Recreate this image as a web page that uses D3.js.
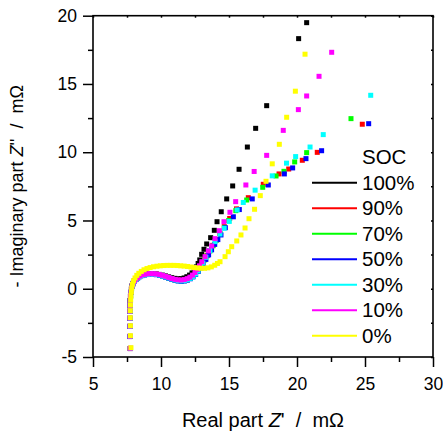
<!DOCTYPE html>
<html lang="en">

<head>
  <meta charset="UTF-8">
  <title>Nyquist SOC</title>
  <style>
    body { margin: 0; background: #fff; }
    text { font-family: "Liberation Sans", Arial, sans-serif; font-size: 17px; fill: #000; white-space: pre; }
  </style>
</head>

<body>
  <script src="https://d3js.org/d3.v7.min.js"></script>
  <script>
    // legend labels + colours (drawing order: 100% first, 0% last / on top)
    const socLabels = ['100%', '90%', '70%', '50%', '30%', '10%', '0%'];
    const socColors = ['#000000', '#ff0000', '#00ff00', '#0000ff', '#00ffff', '#ff00ff', '#ffff00'];

    const xTicks = [5, 10, 15, 20, 25, 30];
    const yTicks = [-5, 0, 5, 10, 15, 20];

    // [Z', -Z''] in mOhm
    const soc100 = [[7.74,-4.38],[7.71,-3.5],[7.71,-2.76],[7.70,-2.17],[7.70,-1.66],[7.71,-1.24],[7.73,-0.87],[7.75,-0.55],[7.78,-0.27],[7.82,-0.02],[7.87,0.2],[7.94,0.39],[8.03,0.56],[8.14,0.7],[8.27,0.82],[8.42,0.92],[8.59,1.0],[8.78,1.05],[8.98,1.08],[9.2,1.1],[9.42,1.1],[9.65,1.08],[9.88,1.05],[10.1,1.0],[10.33,0.94],[10.56,0.87],[10.79,0.81],[11.02,0.76],[11.25,0.73],[11.48,0.74],[11.7,0.79],[11.9,0.88],[12.1,1.0],[12.28,1.16],[12.45,1.37],[12.6,1.6],[12.73,1.85],[12.85,2.11],[12.99,2.52],[13.16,2.89],[13.36,3.28],[13.65,3.74],[13.92,4.28],[14.12,4.91],[14.43,5.64],[14.83,6.58],[15.27,7.53],[15.74,8.75],[16.35,10.38],[16.96,11.75],[17.77,13.41],[20.12,18.32],[20.71,19.49]];
    const soc90 = [[7.74,-4.38],[7.72,-3.5],[7.71,-2.76],[7.71,-2.17],[7.71,-1.66],[7.72,-1.24],[7.74,-0.87],[7.76,-0.55],[7.79,-0.27],[7.83,-0.02],[7.88,0.2],[7.95,0.38],[8.04,0.55],[8.15,0.69],[8.28,0.81],[8.43,0.91],[8.6,0.99],[8.79,1.04],[8.99,1.07],[9.21,1.08],[9.43,1.08],[9.66,1.06],[9.89,1.02],[10.11,0.96],[10.34,0.89],[10.57,0.81],[10.8,0.73],[11.03,0.66],[11.25,0.62],[11.48,0.6],[11.7,0.62],[11.92,0.68],[12.13,0.78],[12.33,0.92],[12.52,1.1],[12.7,1.32],[12.87,1.58],[13.03,1.85],[13.2,2.14],[13.38,2.45],[13.58,2.8],[13.8,3.18],[14.05,3.6],[14.33,4.05],[14.65,4.55],[15.05,5.15],[15.55,5.85],[16.42,6.67],[17.52,7.65],[18.68,8.41],[19.39,8.77],[20.39,9.41],[21.49,9.99],[24.8,12.05]];
    const soc70 = [[7.75,-4.37],[7.72,-3.49],[7.72,-2.75],[7.71,-2.16],[7.71,-1.65],[7.72,-1.23],[7.74,-0.86],[7.76,-0.54],[7.79,-0.26],[7.83,-0.01],[7.88,0.2],[7.95,0.38],[8.04,0.55],[8.15,0.69],[8.28,0.81],[8.43,0.9],[8.6,0.98],[8.79,1.03],[8.99,1.06],[9.21,1.07],[9.43,1.07],[9.66,1.05],[9.89,1.01],[10.11,0.95],[10.34,0.87],[10.57,0.79],[10.8,0.71],[11.03,0.64],[11.26,0.59],[11.49,0.57],[11.71,0.59],[11.93,0.65],[12.14,0.75],[12.34,0.89],[12.53,1.07],[12.71,1.29],[12.88,1.55],[13.04,1.82],[13.21,2.11],[13.4,2.42],[13.6,2.77],[13.83,3.15],[14.08,3.56],[14.36,4.0],[14.68,4.5],[14.98,5.0],[15.5,5.72],[16.3,6.5],[17.48,7.43],[18.46,8.26],[19.04,8.6],[19.83,9.29],[20.71,9.97],[23.97,12.46]];
    const soc50 = [[7.75,-4.38],[7.72,-3.5],[7.72,-2.76],[7.71,-2.17],[7.71,-1.66],[7.72,-1.24],[7.74,-0.87],[7.76,-0.55],[7.79,-0.27],[7.83,-0.03],[7.88,0.18],[7.95,0.36],[8.04,0.53],[8.15,0.67],[8.28,0.79],[8.43,0.88],[8.6,0.96],[8.79,1.01],[8.99,1.04],[9.21,1.05],[9.43,1.05],[9.66,1.03],[9.89,0.99],[10.11,0.93],[10.34,0.85],[10.57,0.77],[10.8,0.69],[11.03,0.62],[11.26,0.57],[11.49,0.55],[11.72,0.57],[11.94,0.63],[12.15,0.73],[12.35,0.87],[12.55,1.05],[12.74,1.27],[12.92,1.53],[13.1,1.85],[13.3,2.15],[13.5,2.48],[13.72,2.85],[13.95,3.25],[14.18,3.6],[14.41,3.94],[14.73,4.47],[15.32,5.27],[15.76,5.8],[16.71,6.58],[17.89,7.6],[19.07,8.41],[19.68,8.85],[20.66,9.53],[21.81,10.11],[25.27,12.09]];
    const soc30 = [[7.76,-4.37],[7.73,-3.49],[7.73,-2.75],[7.72,-2.16],[7.72,-1.65],[7.73,-1.23],[7.75,-0.86],[7.77,-0.54],[7.8,-0.26],[7.84,-0.02],[7.89,0.19],[7.96,0.37],[8.05,0.54],[8.16,0.68],[8.29,0.8],[8.44,0.89],[8.61,0.97],[8.8,1.02],[9.0,1.05],[9.22,1.06],[9.44,1.06],[9.67,1.04],[9.9,1.0],[10.12,0.94],[10.35,0.87],[10.58,0.79],[10.81,0.71],[11.04,0.64],[11.27,0.59],[11.5,0.58],[11.72,0.6],[11.94,0.66],[12.15,0.76],[12.35,0.9],[12.54,1.08],[12.72,1.3],[12.9,1.56],[13.08,1.88],[13.3,2.3],[13.6,2.8],[13.97,3.45],[14.34,4.01],[14.65,4.43],[15.02,4.93],[15.6,5.77],[16.05,6.32],[16.92,7.22],[18.18,8.27],[19.23,9.2],[19.9,9.68],[20.96,10.38],[21.93,11.29],[25.42,14.17]];
    const soc10 = [[7.75,-4.36],[7.72,-3.48],[7.72,-2.74],[7.71,-2.15],[7.71,-1.64],[7.72,-1.22],[7.74,-0.85],[7.76,-0.53],[7.79,-0.25],[7.83,0.0],[7.88,0.21],[7.95,0.4],[8.04,0.57],[8.15,0.71],[8.28,0.83],[8.43,0.93],[8.6,1.01],[8.79,1.06],[8.99,1.09],[9.21,1.1],[9.43,1.1],[9.66,1.08],[9.89,1.04],[10.11,0.98],[10.34,0.91],[10.57,0.83],[10.8,0.75],[11.03,0.69],[11.26,0.65],[11.49,0.64],[11.71,0.67],[11.93,0.74],[12.13,0.85],[12.32,1.0],[12.5,1.19],[12.67,1.42],[12.83,1.68],[13.0,1.98],[13.24,2.35],[13.48,2.77],[13.73,3.13],[13.97,3.67],[14.29,4.25],[14.63,4.91],[15.07,5.6],[15.49,6.38],[16.24,7.6],[16.85,8.59],[17.77,9.77],[18.99,11.6],[20.1,13.12],[20.71,14.12],[21.62,15.56],[22.55,17.32]];
    const soc0 = [[7.79,-4.32],[7.75,-3.44],[7.75,-2.71],[7.74,-2.12],[7.74,-1.61],[7.75,-1.19],[7.77,-0.82],[7.79,-0.5],[7.82,-0.22],[7.85,0.06],[7.9,0.33],[7.98,0.58],[8.09,0.79],[8.22,0.98],[8.37,1.13],[8.55,1.27],[8.75,1.39],[8.97,1.48],[9.2,1.55],[9.45,1.61],[9.7,1.65],[9.95,1.68],[10.2,1.7],[10.45,1.71],[10.7,1.71],[10.95,1.71],[11.2,1.7],[11.45,1.68],[11.7,1.66],[11.95,1.63],[12.2,1.59],[12.45,1.55],[12.7,1.52],[12.95,1.5],[13.2,1.5],[13.45,1.53],[13.7,1.6],[13.95,1.72],[14.15,1.85],[14.34,1.98],[14.71,2.35],[14.95,2.71],[15.2,3.08],[15.57,3.5],[15.88,3.94],[16.18,4.45],[16.47,5.13],[16.88,5.82],[17.3,6.82],[17.72,7.87],[18.18,9.15],[18.7,10.58],[19.24,12.56],[19.88,14.47],[20.59,17.18]];

    const series = [soc100, soc90, soc70, soc50, soc30, soc10, soc0];

    const width = 443, height = 434;
    const margin = { top: 15.7, left: 93, bottom: 77, right: 10 };

    const svg = d3.select('body').append('svg').attr('width', width).attr('height', height);

    const x = d3.scaleLinear().domain([5, 30]).range([margin.left, width - margin.right]);
    const y = d3.scaleLinear().domain([-5, 20]).range([height - margin.bottom, margin.top]);

    const minorX = d3.range(7.5, 30, 5);
    const minorY = d3.range(-2.5, 20, 5);
    const allX = d3.range(5, 30.1, 2.5);
    const allY = d3.range(-5, 20.1, 2.5);

    // plain hyphen for negatives, like the original
    const fmt = d => String(d);

    // bottom axis, ticks out
    svg.append('g').attr('transform', `translate(0,${y(-5)})`)
      .call(d3.axisBottom(x).tickValues(xTicks).tickSize(10).tickPadding(11).tickFormat(fmt));
    svg.append('g').attr('transform', `translate(0,${y(-5)})`)
      .call(d3.axisBottom(x).tickValues(minorX).tickSize(5).tickFormat(''));
    // left axis
    svg.append('g').attr('transform', `translate(${x(5)},0)`)
      .call(d3.axisLeft(y).tickValues(yTicks).tickSize(10).tickPadding(6).tickFormat(fmt));
    svg.append('g').attr('transform', `translate(${x(5)},0)`)
      .call(d3.axisLeft(y).tickValues(minorY).tickSize(5).tickFormat(''));
    // top / right, small inward ticks
    svg.append('g').attr('transform', `translate(0,${y(20)})`)
      .call(d3.axisTop(x).tickValues(allX).tickSize(-2).tickFormat(''));
    svg.append('g').attr('transform', `translate(${x(30)},0)`)
      .call(d3.axisRight(y).tickValues(allY).tickSize(-2).tickFormat(''));

    svg.selectAll('.domain').remove();
    svg.selectAll('.tick line').attr('stroke', '#000').attr('stroke-width', 1.5);
    svg.selectAll('.tick text').style('font-size', '17.5px').style('font-family', '"Liberation Sans", Arial, sans-serif').attr('fill', '#000');

    svg.append('rect')
      .attr('x', x(5)).attr('y', y(20))
      .attr('width', x(30) - x(5)).attr('height', y(-5) - y(20))
      .attr('fill', 'none').attr('stroke', '#000').attr('stroke-width', 1.6);

    // markers
    const sz = 5;
    series.forEach((s, i) => {
      svg.append('g')
        .selectAll('rect').data(s)
        .enter()
        .append('rect')
        .attr('x', d => x(d[0]) - sz / 2)
        .attr('y', d => y(d[1]) - sz / 2)
        .attr('width', sz)
        .attr('height', sz)
        .attr('fill', socColors[i]);
    });

    // axis titles
    const xt = svg.append('text').attr('x', (x(5) + x(30)) / 2).attr('y', 427)
      .attr('text-anchor', 'middle').style('font-size', '20px');
    xt.append('tspan').text('Real part ');
    xt.append('tspan').style('font-style', 'italic').text('Z');
    xt.append('tspan').text("'  /  m\u03A9");

    const yt = svg.append('text')
      .attr('transform', `translate(23,${(y(-5) + y(20)) / 2}) rotate(-90)`)
      .attr('text-anchor', 'middle').style('font-size', '18px');
    yt.append('tspan').text('- Imaginary part ');
    yt.append('tspan').style('font-style', 'italic').text('Z');
    yt.append('tspan').text("''  /  m\u03A9");

    // legend
    const lg = svg.append('g').style('font-size', '20.5px');
    lg.append('text').attr('x', 362).attr('y', 164).style('font-size', '20.5px').text('SOC');
    socLabels.forEach((lab, i) => {
      const ly = 182.7 + i * 25.5;
      lg.append('line').attr('x1', 312).attr('x2', 357).attr('y1', ly).attr('y2', ly)
        .attr('stroke', socColors[i]).attr('stroke-width', 2);
      lg.append('text').attr('x', 362).attr('y', ly + 7).style('font-size', '20.5px').text(lab);
    });
  </script>
</body>

</html>
